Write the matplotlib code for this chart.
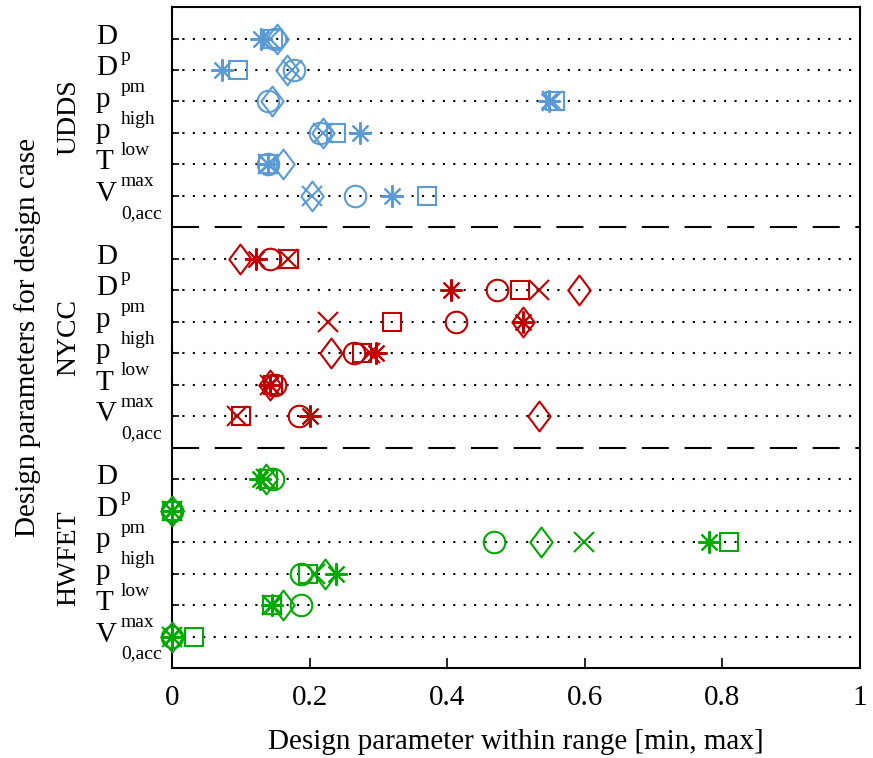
import matplotlib.pyplot as plt
import numpy as np
from matplotlib.path import Path
from matplotlib.transforms import blended_transform_factory

plt.rcParams["font.family"] = ["Liberation Serif", "DejaVu Serif"]

CASES = ["UDDS", "NYCC", "HWFET"]
CASE_COLORS = ["#5b9bd5", "#c00000", "#00aa00"]
PARAM_MAIN = ["D", "D", "p", "p", "T", "V"]
PARAM_SUB = ["p", "pm", "high", "low", "max", "0,acc"]
X_TICKS = [0, 0.2, 0.4, 0.6, 0.8, 1]
X_TICK_LABELS = ["0", "0.2", "0.4", "0.6", "0.8", "1"]

# optimum of each design parameter, scaled to its range
# order of each list: D_p, D_pm, p_high, p_low, T_max, V_0,acc
udds_star = [0.130, 0.072, 0.548, 0.273, 0.140, 0.320]
udds_circle = [0.150, 0.177, 0.140, 0.215, 0.140, 0.266]
udds_square = [0.147, 0.096, 0.557, 0.239, 0.140, 0.370]
udds_cross = [0.142, 0.174, 0.553, 0.220, 0.140, 0.203]
udds_diamond = [0.153, 0.167, 0.145, 0.219, 0.162, 0.203]

nycc_star = [0.122, 0.405, 0.510, 0.297, 0.143, 0.200]
nycc_circle = [0.142, 0.472, 0.413, 0.265, 0.150, 0.184]
nycc_square = [0.170, 0.506, 0.320, 0.276, 0.147, 0.101]
nycc_cross = [0.169, 0.534, 0.227, 0.288, 0.143, 0.095]
nycc_diamond = [0.099, 0.592, 0.510, 0.231, 0.143, 0.533]

hwfet_star = [0.128, 0.0, 0.780, 0.239, 0.145, 0.0]
hwfet_circle = [0.147, 0.0, 0.468, 0.188, 0.188, 0.0]
hwfet_square = [0.140, 0.0, 0.809, 0.198, 0.145, 0.032]
hwfet_cross = [0.137, 0.0, 0.599, 0.208, 0.145, 0.0]
hwfet_diamond = [0.137, 0.0, 0.537, 0.223, 0.161, 0.0]

SERIES = [
    [udds_star, udds_circle, udds_square, udds_cross, udds_diamond],
    [nycc_star, nycc_circle, nycc_square, nycc_cross, nycc_diamond],
    [hwfet_star, hwfet_circle, hwfet_square, hwfet_cross, hwfet_diamond],
]

# matlab-like tall diamond
diamond = Path([(0, -1), (0.75, 0), (0, 1), (-0.75, 0), (0, -1)],
               [Path.MOVETO, Path.LINETO, Path.LINETO, Path.LINETO, Path.CLOSEPOLY])
MARKERS = [((8, 2, 0), 16), ("o", 15.5), ("s", 13.5), ("x", 14), (diamond, 21.5)]

FS = 21


def main() -> None:
    fig = plt.figure(figsize=(8.73, 7.58), dpi=100)
    ax = fig.add_axes([0.197, 0.1187, 0.7881, 0.872])

    all_rows = []
    for g in range(len(CASES)):
        all_rows.extend(7 * g + 1 + np.arange(6))

    ax.hlines(all_rows, 0, 1, colors="k", linestyles=(0, (1, 4)), lw=1.5, zorder=1)
    ax.hlines([7, 14], 0, 1, colors="k", linestyles=(0, (13, 7.5)), lw=1.5, zorder=1)

    for g, color in enumerate(CASE_COLORS):
        rows = 7 * g + 1 + np.arange(6)
        for (marker, ms), vals in zip(MARKERS, SERIES[g]):
            ax.plot(vals, rows, linestyle="none", marker=marker, ms=ms,
                    mec=color, mfc="none", mew=1.5, clip_on=False, zorder=3)

    ax.set_xlim(0, 1)
    ax.set_ylim(21, 0)
    ax.set_xticks(X_TICKS)
    ax.set_xticklabels(X_TICK_LABELS)
    ax.set_yticks(all_rows)
    ax.set_yticklabels([])
    ax.tick_params(axis="x", direction="in", length=7, width=1.2, labelsize=FS, pad=12)
    ax.tick_params(axis="y", direction="in", length=5, width=1.2)
    for sp in ax.spines.values():
        sp.set_linewidth(1.5)

    trans = blended_transform_factory(ax.transAxes, ax.transData)
    for g, case in enumerate(CASES):
        rows = 7 * g + 1 + np.arange(6)
        for y, main_txt, sub_txt in zip(rows, PARAM_MAIN, PARAM_SUB):
            ax.text(-0.1105, y + 0.16, main_txt, transform=trans, fontsize=FS,
                    ha="left", va="baseline")
            ax.text(-0.0741, y + 0.70, sub_txt, transform=trans, fontsize=14,
                    ha="left", va="baseline")
        ax.text(-0.150, 7 * g + 3.5, case, transform=trans, rotation=90,
                fontsize=20, ha="center", va="center")

    ax.set_ylabel("Design parameters for design case", fontsize=FS)
    ax.yaxis.set_label_coords(-0.19, 0.5)
    ax.set_xlabel("Design parameter within range [min, max]", fontsize=FS, labelpad=13)

    fig.savefig("out.png", dpi=100)
    plt.close(fig)


if __name__ == "__main__":
    main()
